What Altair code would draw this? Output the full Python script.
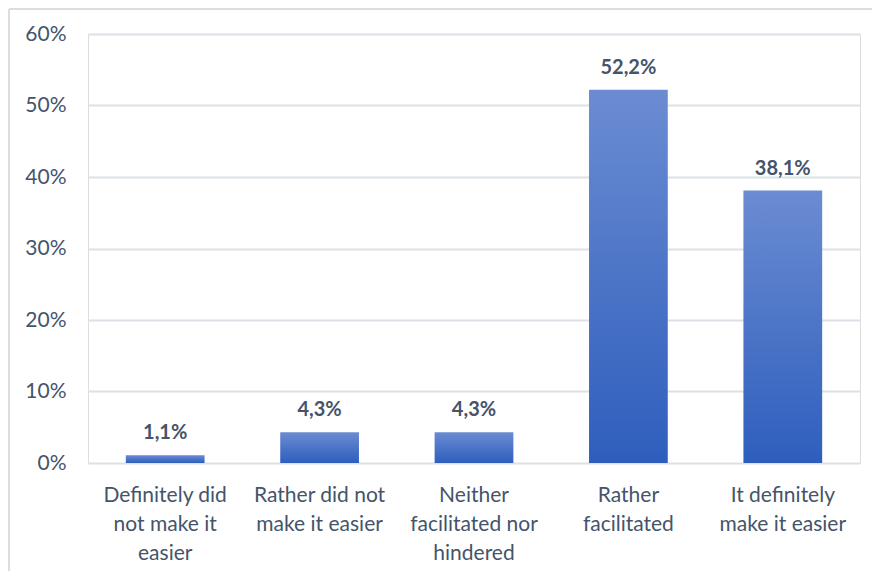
import altair as alt
import pandas as pd

categories = [
    "Definitely did\nnot make it\neasier",
    "Rather did not\nmake it easier",
    "Neither\nfacilitated nor\nhindered",
    "Rather\nfacilitated",
    "It definitely\nmake it easier",
]
values = [1.1, 4.3, 4.3, 52.2, 38.1]
labels = [f"{v:.1f}%".replace(".", ",") for v in values]

df = pd.DataFrame({"cat": categories, "val": [v / 100 for v in values], "lab": labels})

TEXT = "#44546A"
GRID = "#DCE1E8"
FONT = "Lato"

x_enc = alt.X(
    "cat:N",
    sort=categories,
    title=None,
    scale=alt.Scale(paddingInner=0.49, paddingOuter=0.245),
    axis=alt.Axis(
        labelAngle=0,
        labelExpr="split(datum.label, '\\n')",
        labelLineHeight=29,
        labelPadding=21,
        labelFontSize=21,
        labelColor=TEXT,
        labelFont=FONT,
        ticks=False,
        domain=False,
        labelBaseline="top",
    ),
)
y_enc = alt.Y(
    "val:Q",
    title=None,
    scale=alt.Scale(domain=[0, 0.6]),
    axis=alt.Axis(
        format=".0%",
        values=[0, 0.1, 0.2, 0.3, 0.4, 0.5, 0.6],
        labelFontSize=21,
        labelColor=TEXT,
        labelFont=FONT,
        labelPadding=22,
        ticks=False,
        domain=False,
        gridColor=GRID,
        gridWidth=2,
    ),
)

frame_src = alt.Chart(pd.DataFrame({"a": [0]}))
frame_top = frame_src.mark_rule(stroke="#D9DEE5", strokeWidth=2).encode(
    x=alt.value(-79), x2=alt.value(900), y=alt.value(-25)
)
frame_left = frame_src.mark_rule(stroke="#D9DEE5", strokeWidth=2).encode(
    x=alt.value(-79), y=alt.value(-25), y2=alt.value(600)
)

bars = alt.Chart(df).mark_bar(
    color=alt.Gradient(
        gradient="linear",
        stops=[
            alt.GradientStop(color="#6B8CD2", offset=0),
            alt.GradientStop(color="#2E5EBD", offset=1),
        ],
        x1=0, x2=0, y1=0, y2=1,
    )
).encode(x=x_enc, y=y_enc)

text = alt.Chart(df).mark_text(
    baseline="bottom", dy=-12, fontSize=20, fontWeight="bold", color=TEXT, font=FONT
).encode(x=alt.X("cat:N", sort=categories), y="val:Q", text="lab:N")

chart = (frame_top + frame_left + bars + text).properties(
    width=772,
    height=429,
    padding={"left": 80, "top": 26, "right": 12, "bottom": 108},
    autosize=alt.AutoSizeParams(type="none"),
).configure_view(stroke=None).configure(font=FONT)

chart.save("out.html", embed_options={"renderer": "svg", "actions": False})
